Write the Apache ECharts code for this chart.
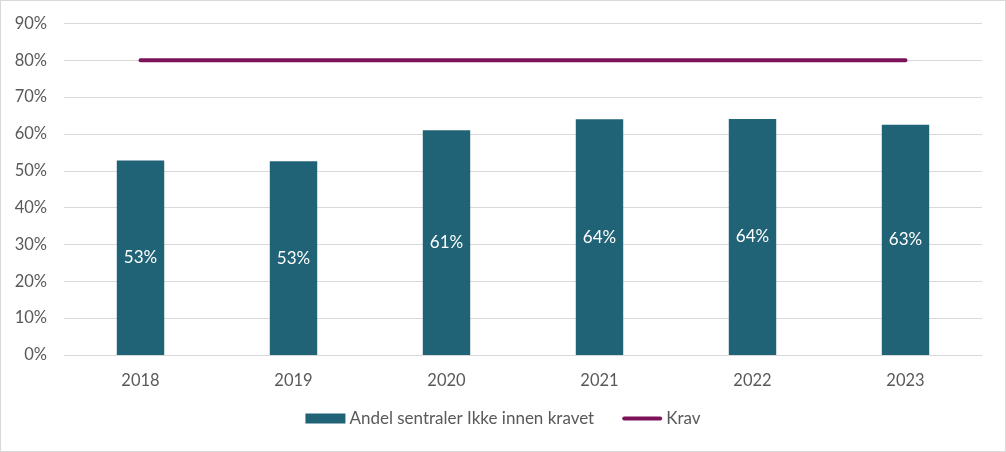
<!DOCTYPE html>
<html>
<head>
<meta charset="utf-8">
<script src="https://cdn.jsdelivr.net/npm/echarts@6/dist/echarts.min.js"></script>
<style>
html, body { margin: 0; padding: 0; background: #fff; }
#main { width: 1004px; height: 450px; border: 1px solid #d9d9d9; }
</style>
</head>
<body>
<div id="main"></div>
<script>
// år
var years = ['2018', '2019', '2020', '2021', '2022', '2023'];
// andel sentraler ikke innen kravet (%)
var andel = [52.8, 52.6, 61.0, 64.0, 64.1, 62.5];
// krav (%)
var krav = [80, 80, 80, 80, 80, 80];

var font = 'Lato, "Open Sans", sans-serif';
var chart = echarts.init(document.getElementById('main'));

var option = {
    animation: false,
    textStyle: { fontFamily: font },
    grid: { left: 63, right: 23, top: 22.5, bottom: 96 },
    legend: {
        bottom: 19,
        itemGap: 28,
        itemWidth: 40,
        itemHeight: 10,
        textStyle: { fontSize: 17, color: '#595959', fontFamily: font, padding: [0, 0, 0, -1] },
        data: [
            { name: 'Andel sentraler Ikke innen kravet', icon: 'rect' },
            { name: 'Krav', icon: 'path://M2,3 L38,3 A2,2 0 0 1 38,7 L2,7 A2,2 0 0 1 2,3 Z' }
        ]
    },
    xAxis: {
        type: 'category',
        data: years,
        axisTick: { show: false },
        axisLine: { lineStyle: { color: '#d9d9d9', width: 1 } },
        axisLabel: { color: '#595959', fontSize: 16.5, margin: 17, fontFamily: font }
    },
    yAxis: {
        type: 'value',
        min: 0,
        max: 90,
        interval: 10,
        axisLabel: { formatter: '{value}%', color: '#595959', fontSize: 16.5, margin: 17, fontFamily: font },
        splitLine: { lineStyle: { color: '#d9d9d9', width: 1 } },
        axisLine: { show: false },
        axisTick: { show: false }
    },
    series: [
        {
            name: 'Andel sentraler Ikke innen kravet',
            type: 'bar',
            data: andel,
            barWidth: '31%',
            itemStyle: { color: '#216376' },
            label: {
                show: true,
                position: 'inside',
                color: '#fff',
                fontSize: 17,
                fontFamily: font,
                formatter: function (p) { return Math.round(p.value) + '%'; }
            }
        },
        {
            name: 'Krav',
            type: 'line',
            data: krav,
            symbol: 'none',
            lineStyle: { color: '#7c1359', width: 4, cap: 'round' },
            itemStyle: { color: '#7c1359' }
        }
    ]
};
chart.setOption(option);
</script>
</body>
</html>
